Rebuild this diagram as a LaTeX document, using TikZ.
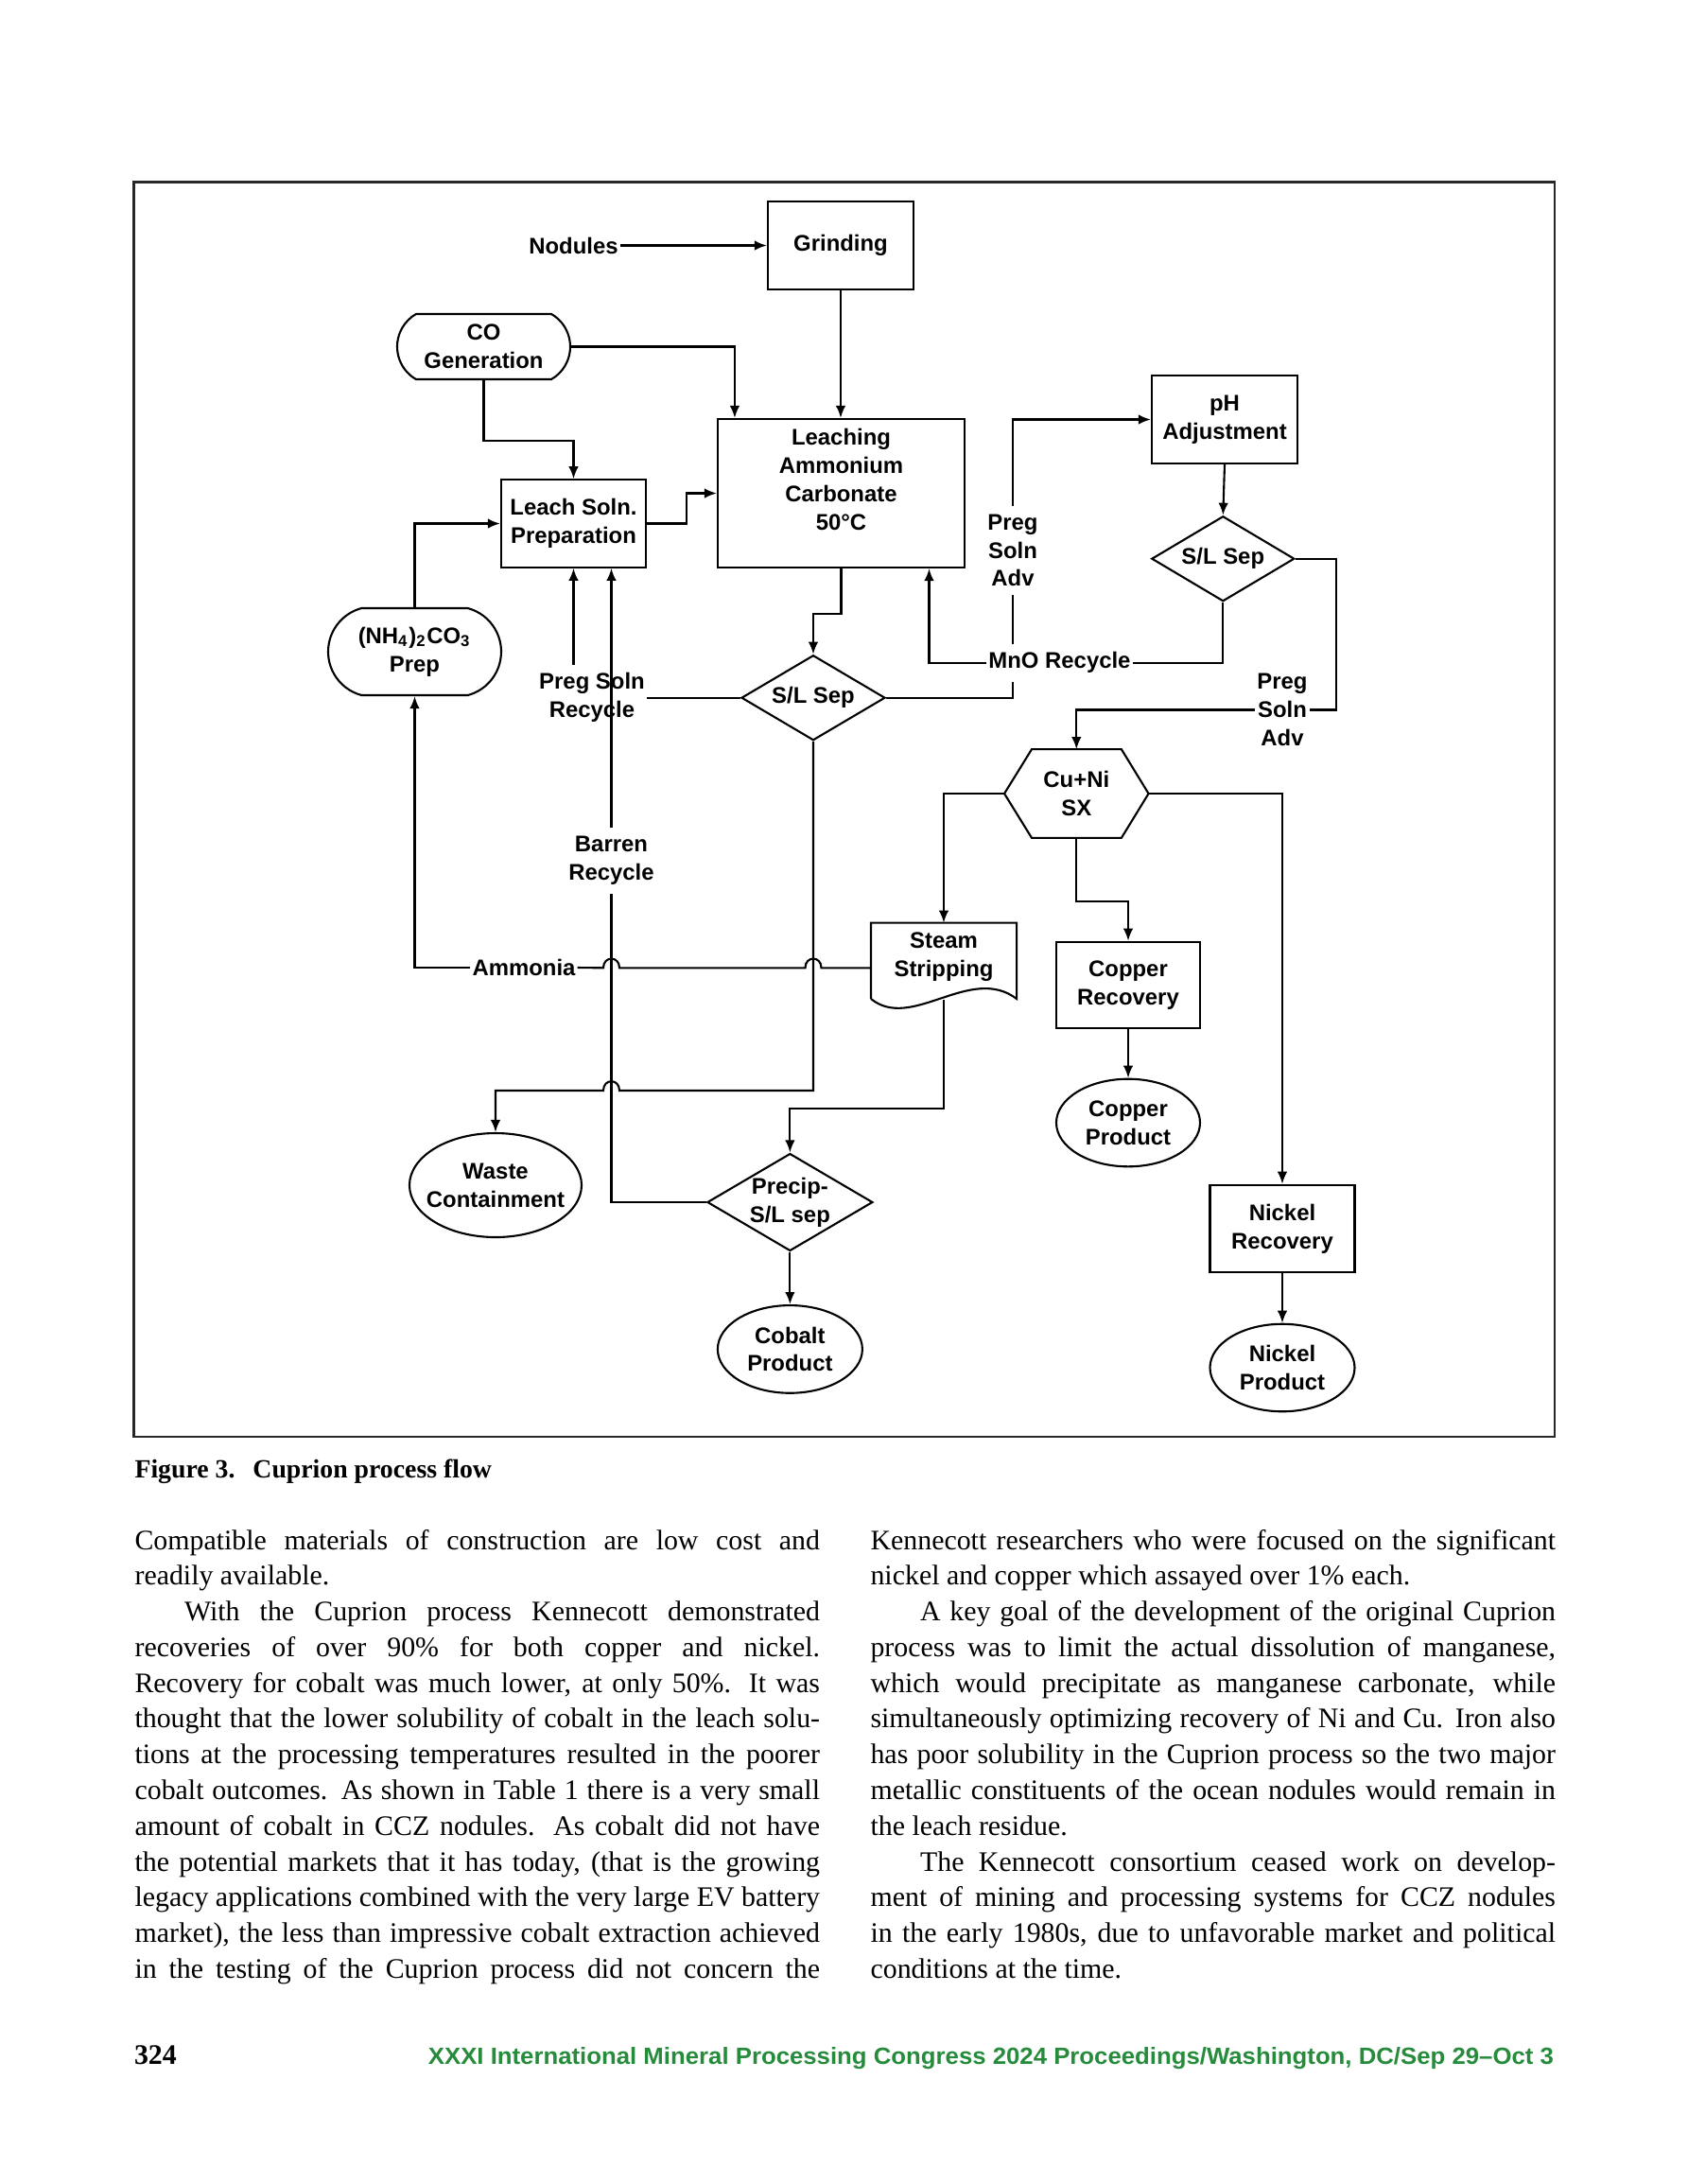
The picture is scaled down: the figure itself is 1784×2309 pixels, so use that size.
\documentclass[tikz,border=0pt]{standalone}
\usepackage{fontspec}
\setmainfont{Liberation Serif}
\newfontfamily\figfont{Liberation Sans}
\usepackage{graphicx}
\usepackage{xcolor}
\usetikzlibrary{shapes.geometric, shapes.misc, arrows.meta, calc}

\definecolor{congress}{RGB}{38,140,60}
\newcommand{\figtext}{\figfont\bfseries\fontsize{6.8pt}{8.5pt}\selectfont}
\newcommand{\bodytext}{\fontsize{8.5pt}{10.75pt}\selectfont}
\newcommand{\captext}{\bfseries\fontsize{7.9pt}{9pt}\selectfont}
\newlength{\colw}\setlength{\colw}{72.45mm}
\newcommand{\jrow}[1]{\hbox to \colw{#1}}
\newcommand{\lrow}[1]{\hbox{#1}}
\newcommand{\pind}{\hskip 5.25mm}

\begin{document}
\begin{tikzpicture}[x=0.1mm, y=-0.1mm, >={Latex[length=1.3mm,width=1.05mm]}, line width=0.6pt]
    % Styles
    \tikzstyle{process} = [rectangle, draw, align=center, inner sep=0pt, font=\figtext, minimum width=15.3mm, minimum height=9.25mm]
    \tikzstyle{terminal} = [rounded rectangle, draw, align=center, inner sep=0pt, font=\figtext, minimum width=18.3mm]
    \tikzstyle{decision} = [diamond, draw, align=center, inner sep=0pt, font=\figtext, aspect=1.7]
    \tikzstyle{product} = [ellipse, draw, align=center, inner sep=0pt, font=\figtext, minimum width=15.3mm, minimum height=9.25mm]
    \tikzstyle{outline} = [rectangle, align=center, inner sep=0pt, font=\figtext]
    \tikzstyle{flowlabel} = [align=center, inner xsep=0.3pt, inner ysep=0.8mm, font=\figtext]
    \tikzstyle{column} = [anchor=base west, inner sep=0pt, font=\bodytext]

    % Page
    \fill[white] (0,0) rectangle (1784,2309);
    \useasboundingbox (0,0) rectangle (1784,2309);
    \draw[line width=0.75pt, black!85] (141.8,192.3) rectangle (1644,1519);

    % Nodes
    \node [process, minimum width=15.4mm, minimum height=9.3mm] (grind) at (889,259.5) {Grinding};
    \node [flowlabel] (nodules) at (606.5,259.5) {Nodules};
    \node [terminal, minimum height=6.9mm, rounded rectangle arc length=120] (co) at (511.5,366.5) {CO\\Generation};
    \node [process, minimum width=26.1mm, minimum height=15.7mm] (leach) at (889.5,521.5) {Leaching\\Ammonium\\Carbonate\\50°C\\\mbox{}};
    \node [process] (lsoln) at (606.5,553.5) {Leach Soln.\\Preparation};
    \node [terminal, minimum height=9.2mm, rounded rectangle arc length=150] (prep) at (438.5,689) {(NH\textsubscript{4})\textsubscript{2}CO\textsubscript{3}\\Prep};
    \node [process, minimum width=15.4mm, minimum height=9.3mm] (ph) at (1295,443.5) {pH\\Adjustment};
    \node [decision, minimum width=15.1mm, minimum height=9mm] (slsep2) at (1293.3,590.7) {S/L Sep};
    \node [decision, minimum width=15.2mm, minimum height=9mm] (slsep) at (860,737.7) {S/L Sep};
    \node [outline, minimum width=15.04mm, minimum height=9.17mm] (sx) at (1138.3,839) {Cu+Ni\\SX};
    \node [outline, minimum width=15.2mm, minimum height=7mm] (steam) at (998,1011.7) {Steam\\Stripping};
    \node [process, minimum width=15.2mm, minimum height=9.16mm] (curec) at (1193,1041.5) {Copper\\Recovery};
    \node [product, minimum width=15.2mm, minimum height=9.26mm] (cuprod) at (1193,1187) {Copper\\Product};
    \node [process] (nirec) at (1356,1299) {Nickel\\Recovery};
    \node [product] (niprod) at (1356,1446) {Nickel\\Product};
    \node [product, inner xsep=-10pt, minimum width=18.2mm, minimum height=11mm] (waste) at (524,1253) {Waste\\Containment};
    \node [decision, minimum width=17.5mm, minimum height=10.3mm] (precip) at (835.4,1271) {Precip-\\S/L sep};
    \node [product, minimum height=9.27mm] (coprod) at (835.4,1426.4) {Cobalt\\Product};

    % Stream labels
    \node [flowlabel] (padv1) at (1071,582) {Preg\\Soln\\Adv};
    \node [flowlabel] (mno) at (1120.5,700.7) {MnO Recycle};
    \node [flowlabel] (padv2) at (1356,750.5) {Preg\\Soln\\Adv};
    \node [flowlabel] (pregrec) at (626,737.7) {Preg Soln\\Recycle};
    \node [flowlabel] (barren) at (646.5,910) {Barren\\Recycle};
    \node [flowlabel] (amm) at (554,1023) {Ammonia};

    % Outlines of the hexagon and the document shape
    \draw (sx.west) -- ($(sx.north west)+(29,0)$) -- ($(sx.north east)+(-28.7,0)$) -- (sx.east)
        -- ($(sx.south east)+(-28.7,0)$) -- ($(sx.south west)+(29,0)$) -- cycle;
    \coordinate (stR) at ($(steam.north east)+(0,80.3)$);
    \coordinate (stL) at ($(steam.north west)+(0,80.3)$);
    \draw (stL) -- (steam.north west) -- (steam.north east) -- (stR)
        .. controls ($(stR)+(-49,-37)$) and ($(stL)+(43,35)$) .. (stL);

    % Connections
    % Feed
    \draw[->] (nodules.east) -- (grind.west);
    \draw[->] (grind.south) -- (grind.south |- leach.north);
    \draw[->] (co.east) -| ($(leach.north west)+(19,0)$);
    \draw[->] (co.south) -- ++(0,64) -| (lsoln.north);
    \draw[->] (lsoln.east) -- ++(42,0) |- (leach.west);
    \draw[->] (prep.north) |- (lsoln.west);
    \draw[->] (leach.south) -- ++(0,48) -| (slsep.north);

    % Recycles
    \coordinate (barrenin) at ($(lsoln.south)+(40,0)$);
    \draw (slsep.west) -- (pregrec.east |- slsep.west);
    \draw[->] (pregrec.north -| lsoln.south) -- (lsoln.south);
    \draw (precip.west) -| (barren.south);
    \draw[->] (barren.north) -- (barrenin);
    \draw (slsep2.south) |- (mno.east);
    \draw[->] (mno.west) -| ($(leach.south)+(93,0)$);

    % Pregnant solution advance
    \draw (slsep.east) -| (mno.south -| padv1);
    \draw (mno.north -| padv1) -- (padv1.south);
    \draw[->] (padv1.north) |- (ph.west);
    \draw[->] (ph.south) -- (slsep2.north);
    \draw (slsep2.east) -- ++(43,0) |- (padv2.east);
    \draw[->] (padv2.west) -| (sx.north);

    % Solvent extraction
    \draw[->] (sx.west) -| (steam.north);
    \draw[->] (sx.south) -- ++(0,67) -| (curec.north);
    \draw[->] (sx.east) -| (nirec.north);
    \draw[->] (curec.south) -- (cuprod.north);
    \draw[->] (nirec.south) -- (niprod.north);

    % Ammonia, with hops over the crossed lines
    \coordinate (ammin) at ($(steam.west)+(0,11.6)$);
    \coordinate (hopA) at (slsep |- ammin);
    \coordinate (hopB) at (barrenin |- ammin);
    \draw (ammin) -- ($(hopA)+(8.5,0)$) .. controls ($(hopA)+(8.5,-13)$) and ($(hopA)+(-8.5,-13)$) .. ($(hopA)+(-8.5,0)$)
        -- ($(hopB)+(8.5,0)$) .. controls ($(hopB)+(8.5,-13)$) and ($(hopB)+(-8.5,-13)$) .. ($(hopB)+(-8.5,0)$)
        -- (amm.east);
    \draw[->] (amm.west) -| (prep.south);

    % Residue and cobalt
    \coordinate (wasteturn) at ($(waste.north)+(0,-44)$);
    \coordinate (hopC) at (barrenin |- wasteturn);
    \draw[->] (slsep.south) |- ($(hopC)+(8.5,0)$) .. controls ($(hopC)+(8.5,-13)$) and ($(hopC)+(-8.5,-13)$) .. ($(hopC)+(-8.5,0)$)
        -- (wasteturn) -- (waste.north);
    \draw[->] ($(steam.south)+(0,9.5)$) |- ($(precip.north)+(0,-46.6)$) -- (precip.north);
    \draw[->] (precip.south) -- (coprod.north);

    % Caption and text
    \node [anchor=base west, inner sep=0pt, font=\captext] (caption) at (141.5,1562) {Figure 3.\hspace{1.9mm}Cuprion process flow};
    \node [column] (leftcol) at (141.5,1638) {\vtop{%
        \jrow{Compatible materials of construction are low cost and}
        \lrow{readily available.}
        \jrow{\pind With the Cuprion process Kennecott demonstrated}
        \jrow{recoveries of over 90\% for both copper and nickel.}
        \jrow{Recovery for cobalt was much lower, at only 50\%. It was}
        \jrow{thought that the lower solubility of cobalt in the leach solu-}
        \jrow{tions at the processing temperatures resulted in the poorer}
        \jrow{cobalt outcomes. As shown in Table 1 there is a very small}
        \jrow{amount of cobalt in CCZ nodules. As cobalt did not have}
        \jrow{the potential markets that it has today, (that is the growing}
        \jrow{legacy applications combined with the very large EV battery}
        \jrow{market), the less than impressive cobalt extraction achieved}
        \jrow{in the testing of the Cuprion process did not concern the}}};
    \node [column] (rightcol) at (919.5,1638) {\vtop{%
        \jrow{Kennecott researchers who were focused on the significant}
        \lrow{nickel and copper which assayed over 1\% each.}
        \jrow{\pind A key goal of the development of the original Cuprion}
        \jrow{process was to limit the actual dissolution of manganese,}
        \jrow{which would precipitate as manganese carbonate, while}
        \jrow{simultaneously optimizing recovery of Ni and Cu. Iron also}
        \jrow{has poor solubility in the Cuprion process so the two major}
        \jrow{metallic constituents of the ocean nodules would remain in}
        \lrow{the leach residue.}
        \jrow{\pind The Kennecott consortium ceased work on develop-}
        \jrow{ment of mining and processing systems for CCZ nodules}
        \jrow{in the early 1980s, due to unfavorable market and political}
        \lrow{conditions at the time.}}};

    % Footer
    \node [anchor=base west, inner sep=0pt, font=\bfseries\fontsize{8.5pt}{10pt}\selectfont] (pageno) at (141,2182) {324};
    \node [anchor=base east, inner sep=0pt, text=congress, font=\figfont\bfseries\fontsize{7pt}{8pt}\selectfont] (footer) at (1644,2182)
        {\resizebox{119mm}{1.8mm}{XXXI International Mineral Processing Congress 2024 Proceedings/Washington, DC/Sep 29–Oct 3}};
\end{tikzpicture}
\end{document}
